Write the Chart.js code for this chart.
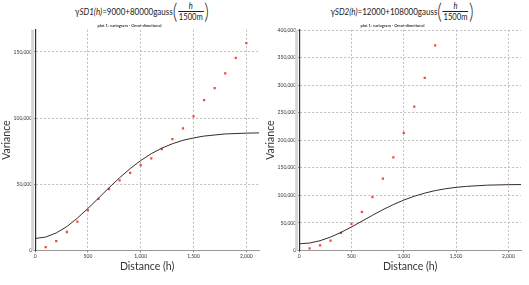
<!DOCTYPE html>
<html lang="en">
<head>
  <meta charset="UTF-8">
  <title>Variogram SD1 / SD2</title>
  <script src="https://cdn.jsdelivr.net/npm/chart.js"></script>
  <style>
    body {
      margin: 0;
      width: 529px;
      height: 285px;
      background: #fff;
      font-family: 'Lato', sans-serif;
      color: #222;
      position: relative;
      overflow: hidden;
    }
    .formula {
      position: absolute;
      top: 0;
      height: 22px;
      display: flex;
      align-items: center;
      font-size: 10px;
      white-space: nowrap;
      transform: translateX(-50%) scaleX(0.8);
    }
    .formula i { font-style: italic; }
    .paren { font-size: 22px; font-weight: 300; line-height: 22px; }
    .frac {
      display: inline-flex;
      flex-direction: column;
      align-items: center;
      font-size: 9.5px;
      line-height: 10px;
      margin: 0 1px;
    }
    .frac .num { font-style: italic; }
    .frac .den { border-top: 1px solid #222; padding: 0 1px; }
    canvas { position: absolute; top: 20px; }
    #cv1 { left: 0; }
    #cv2 { left: 264px; }
  </style>
</head>
<body>
  <div class="formula" style="left:142px">γ<i>SD1(h)</i>=9000+80000gauss<span class="paren">(</span><span class="frac"><span class="num">h</span><span class="den">1500m</span></span><span class="paren">)</span></div>
  <div class="formula" style="left:402px">γ<i>SD2(h)</i>=12000+108000gauss<span class="paren">(</span><span class="frac"><span class="num">h</span><span class="den">1500m</span></span><span class="paren">)</span></div>
  <canvas id="cv1" width="266" height="265"></canvas>
  <canvas id="cv2" width="265" height="265"></canvas>

  <script>
    // experimental variogram, SD1
    const lagsSD1 = [100, 200, 300, 400, 500, 600, 700, 800, 900, 1000,
                     1100, 1200, 1300, 1400, 1500, 1600, 1700, 1800, 1900, 2000];
    const gammaSD1 = [2500, 7000, 13900, 21700, 30300, 38900, 46400, 53000, 58600, 64400,
                      69500, 76500, 84100, 92200, 101300, 113600, 122700, 133800, 145500, 156600];
    // fitted model line, SD1
    const modelLagsSD1 = [0, 0, 100, 200, 300, 400, 500, 600, 700, 800, 900, 1000,
                          1100, 1200, 1300, 1400, 1500, 1600, 1800, 2000, 2120];
    const modelSD1 = [0, 9000, 10100, 13200, 18000, 24400, 31700, 39500, 47400, 54900, 61800, 67900,
                      73100, 77300, 80600, 83200, 85000, 86400, 88000, 88600, 88800];
    const yTicksSD1 = [0, 50000, 100000, 150000];

    // experimental variogram, SD2
    const lagsSD2 = [100, 200, 300, 400, 500, 600, 700, 800, 900, 1000, 1100, 1200, 1300];
    const gammaSD2 = [3700, 9200, 17600, 31700, 48200, 70100, 97000, 130600,
                      169000, 213500, 261200, 313700, 372900];
    // fitted model line, SD2
    const modelLagsSD2 = [0, 100, 200, 300, 400, 500, 600, 700, 800, 900, 1000,
                          1100, 1200, 1300, 1400, 1500, 1600, 1800, 2000, 2120];
    const modelSD2 = [12000, 13400, 17600, 24200, 32700, 42600, 53100, 63800, 74000, 83300, 91500,
                      98500, 104100, 108700, 112100, 114600, 116400, 118600, 119500, 119700];
    const yTicksSD2 = [0, 50000, 100000, 150000, 200000, 250000, 300000, 350000, 400000];

    const xTicks = [0, 500, 1000, 1500, 2000];
    const plotTitle = 'plot 1: variogram - Omni-directional';

    // grey band along the y axis
    const axisBand = {
      id: 'axisBand',
      beforeDatasetsDraw(chart) {
        const { ctx, chartArea } = chart;
        ctx.save();
        ctx.fillStyle = '#d6d6d6';
        ctx.fillRect(chartArea.left - 4, chartArea.top, 3, chartArea.bottom - chartArea.top);
        ctx.restore();
      }
    };

    function pairs(xs, ys) {
      return xs.map((x, i) => ({ x: x, y: ys[i] }));
    }

    function makeChart(id, lags, gamma, mLags, model, yTicks, yMax, pad) {
      return new Chart(document.getElementById(id), {
        type: 'scatter',
        data: {
          datasets: [{
            label: 'model',
            data: pairs(mLags, model),
            showLine: true,
            borderColor: '#3b2a2a',
            borderWidth: 1,
            pointRadius: 0,
            tension: 0
          }, {
            label: 'experimental',
            data: pairs(lags, gamma),
            pointStyle: 'rect',
            pointRadius: 1.6,
            backgroundColor: '#ef4b3c',
            borderColor: '#ef4b3c',
            borderWidth: 0
          }]
        },
        options: {
          responsive: false,
          animation: false,
          layout: { padding: pad },
          plugins: {
            legend: { display: false },
            tooltip: { enabled: false },
            title: {
              display: true,
              text: plotTitle,
              color: '#333',
              font: { family: 'Lato', size: 4 },
              padding: { top: 3, bottom: 2 }
            }
          },
          scales: {
            x: {
              type: 'linear',
              min: 0,
              max: 2120,
              afterBuildTicks: (axis) => { axis.ticks = xTicks.map(v => ({ value: v })); },
              ticks: {
                color: '#333',
                font: { family: 'Lato', size: 5 },
                padding: 1,
                maxRotation: 0
              },
              grid: { color: '#bdbdbd', tickLength: 2, tickColor: '#888' },
              border: { color: '#999', dash: [2, 2] },
              title: {
                display: true,
                text: 'Distance (h)',
                color: '#333',
                font: { family: 'Lato', size: 10.5 },
                padding: { top: 0, bottom: 0 }
              }
            },
            y: {
              min: 0,
              max: yMax,
              afterBuildTicks: (axis) => { axis.ticks = yTicks.map(v => ({ value: v })); },
              ticks: {
                color: '#333',
                font: { family: 'Lato', size: 5 },
                padding: 1
              },
              grid: { color: '#bdbdbd', tickLength: 2, tickColor: '#888' },
              border: { color: '#333', width: 1.2, dash: [2, 2] },
              title: {
                display: true,
                text: 'Variance',
                color: '#333',
                font: { family: 'Lato', size: 10.5 },
                padding: { top: 0, bottom: 0 }
              }
            }
          }
        },
        plugins: [axisBand]
      });
    }

    makeChart('cv1', lagsSD1, gammaSD1, modelLagsSD1, modelSD1, yTicksSD1, 166700,
              { left: 0, right: 7, top: 0, bottom: 12 });
    makeChart('cv2', lagsSD2, gammaSD2, modelLagsSD2, modelSD2, yTicksSD2, 401000,
              { left: 0, right: 8, top: 0, bottom: 12 });
  </script>
</body>
</html>
